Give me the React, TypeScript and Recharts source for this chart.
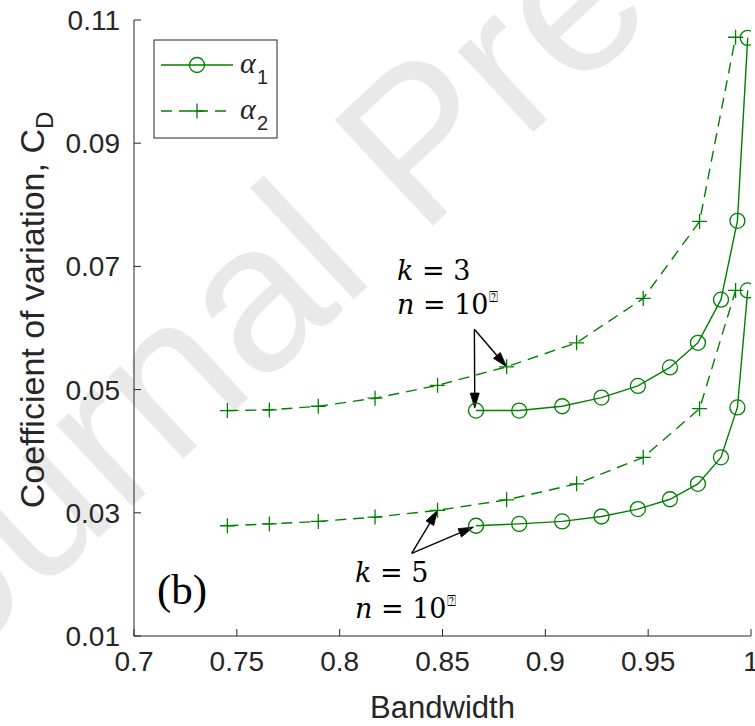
import React from 'react';
import { LineChart, Line, XAxis, YAxis, ReferenceLine } from 'recharts';

const GREEN = '#008000';
const AXIS = '#262626';

// Bandwidth values (x) for the two variants
const bwAlpha1 = [0.8663, 0.8873, 0.9082, 0.9273, 0.945, 0.9606, 0.9742, 0.9854, 0.9934, 0.9984];
const bwAlpha2 = [0.7454, 0.7658, 0.7896, 0.8172, 0.8476, 0.8812, 0.9152, 0.9476, 0.975, 0.9925];
// Coefficient of variation C_D
const k3Alpha1 = [0.0466, 0.0466, 0.0473, 0.0487, 0.0506, 0.0536, 0.0576, 0.0646, 0.0774, 0.1071];
const k3Alpha2 = [0.0466, 0.0467, 0.0473, 0.0486, 0.0507, 0.0537, 0.0576, 0.0648, 0.0773, 0.1072];
const k5Alpha1 = [0.0279, 0.0282, 0.0286, 0.0294, 0.0306, 0.0322, 0.0347, 0.039, 0.0471, 0.0661];
const k5Alpha2 = [0.0279, 0.0282, 0.0286, 0.0293, 0.0304, 0.0321, 0.0347, 0.039, 0.0469, 0.0661];

const xTicks = [0.7, 0.75, 0.8, 0.85, 0.9, 0.95, 1];
const yTicks = [0.01, 0.03, 0.05, 0.07, 0.09, 0.11];

// annotation arrows (data coordinates): [start, tip]
const arrowK3 = [
  [{ x: 0.8655, y: 0.0598 }, { x: 0.8657, y: 0.047 }],
  [{ x: 0.8655, y: 0.0598 }, { x: 0.8812, y: 0.0537 }],
];
const arrowK5 = [
  [{ x: 0.835, y: 0.0234 }, { x: 0.8476, y: 0.0304 }],
  [{ x: 0.835, y: 0.0234 }, { x: 0.8651, y: 0.0277 }],
];

const toPts = (xs: number[], ys: number[]) => xs.map((x, i) => ({ x, y: ys[i] }));

const SANS = '"Liberation Sans", Arial, Helvetica, sans-serif';
const SERIF = '"Liberation Serif", "Times New Roman", serif';
const MATH = '"DejaVu Serif", serif';

const TICK_LEN = 7;

const fmt = (v: number) => String(Number(v.toFixed(4)));

const BottomTick = (p: any) => (
  <g>
    <line x1={p.x} y1={p.y} x2={p.x} y2={p.y - TICK_LEN} stroke={AXIS} strokeWidth={1} />
    <text x={p.x} y={p.y + 35} textAnchor="middle" fontFamily={SANS} fontSize={28} fill={AXIS}>
      {fmt(p.payload.value)}
    </text>
  </g>
);
const TopTick = (p: any) => (
  <line x1={p.x} y1={p.y} x2={p.x} y2={p.y + TICK_LEN} stroke={AXIS} strokeWidth={1} />
);
const LeftTick = (p: any) => (
  <g>
    <line x1={p.x} y1={p.y} x2={p.x + TICK_LEN} y2={p.y} stroke={AXIS} strokeWidth={1} />
    <text x={p.x - 14} y={p.y + 10} textAnchor="end" fontFamily={SANS} fontSize={28} fill={AXIS}>
      {fmt(p.payload.value)}
    </text>
  </g>
);
const RightTick = (p: any) => (
  <line x1={p.x} y1={p.y} x2={p.x - TICK_LEN} y2={p.y} stroke={AXIS} strokeWidth={1} />
);

const circleDot = (p: any) => (
  <circle key={`c-${p.index}`} cx={p.cx} cy={p.cy} r={7.5} fill="none" stroke={GREEN} strokeWidth={1.3} strokeDasharray="none" />
);
const plusDot = (p: any) => (
  <path
    key={`p-${p.index}`}
    d={`M${p.cx - 7.5},${p.cy}h15M${p.cx},${p.cy - 7.5}v15`}
    fill="none"
    stroke={GREEN}
    strokeWidth={1.3}
    strokeDasharray="none"
  />
);

const arrowShape = (p: any) => {
  const { x1, y1, x2, y2 } = p;
  const dx = x2 - x1;
  const dy = y2 - y1;
  const len = Math.sqrt(dx * dx + dy * dy) || 1;
  const ux = dx / len;
  const uy = dy / len;
  const hl = 15;
  const hw = 4.5;
  const bx = x2 - ux * hl;
  const by = y2 - uy * hl;
  const pts = `${x2},${y2} ${bx - uy * hw},${by + ux * hw} ${bx + uy * hw},${by - ux * hw}`;
  return (
    <g>
      <line x1={x1} y1={y1} x2={bx} y2={by} stroke="#000" strokeWidth={1.4} />
      <polygon points={pts} fill="#000" stroke="#000" strokeWidth={0.8} />
    </g>
  );
};

const Watermark = () => {
  const ax = -126;
  const ay = 747;
  return (
    <svg width={755} height={726} style={{ position: 'absolute', left: 0, top: 0 }}>
      <text
        x={ax}
        y={ay}
        transform={`rotate(-43 ${ax} ${ay})`}
        fontFamily={SANS}
        fontSize={210}
        fill="#e9e9e9"
      >
        Journal Pre-proof
      </text>
    </svg>
  );
};

const Overlay = () => (
  <svg width={755} height={726} style={{ position: 'absolute', left: 0, top: 0 }}>
    {/* legend */}
    <rect x={154} y={40} width={123} height={98} fill="none" stroke={AXIS} strokeWidth={1} />
    <line x1={161} y1={65} x2={233} y2={65} stroke={GREEN} strokeWidth={1.4} />
    <circle cx={197} cy={65} r={7.5} fill="none" stroke={GREEN} strokeWidth={1.3} />
    <text x={240} y={73} fontFamily={SERIF} fontStyle="italic" fontSize={30} fill={AXIS}>α</text>
    <text x={257} y={84} fontFamily={SANS} fontSize={20} fill={AXIS}>1</text>
    <line x1={161} y1={111} x2={233} y2={111} stroke={GREEN} strokeWidth={1.4} strokeDasharray="11 7" />
    <path d="M189.5,111h15M197,103.5v15" stroke={GREEN} strokeWidth={1.3} fill="none" />
    <text x={240} y={119} fontFamily={SERIF} fontStyle="italic" fontSize={30} fill={AXIS}>α</text>
    <text x={257} y={130} fontFamily={SANS} fontSize={20} fill={AXIS}>2</text>

    {/* k = 3 annotation */}
    <text x={397} y={280} fontFamily={MATH} fontSize={27} fill="#000">
      <tspan fontStyle="italic">k</tspan> = 3
    </text>
    <text x={397} y={314} fontFamily={MATH} fontSize={27} fill="#000">
      <tspan fontStyle="italic">n</tspan> = 10
      <tspan dy={-12} fontSize={15} fontFamily='"DejaVu Sans", sans-serif'>⍰</tspan>
    </text>

    {/* k = 5 annotation */}
    <text x={355} y={582} fontFamily={MATH} fontSize={27} fill="#000">
      <tspan fontStyle="italic">k</tspan> = 5
    </text>
    <text x={355} y={618} fontFamily={MATH} fontSize={27} fill="#000">
      <tspan fontStyle="italic">n</tspan> = 10
      <tspan dy={-12} fontSize={15} fontFamily='"DejaVu Sans", sans-serif'>⍰</tspan>
    </text>

    {/* panel label */}
    <text x={157} y={604} fontFamily={SERIF} fontSize={43} fill="#000">(b)</text>

    {/* y label */}
    <text
      transform="translate(44,310) rotate(-90)"
      textAnchor="middle"
      fontFamily={SANS}
      fontSize={34}
      fill={AXIS}
    >
      Coefficient of variation, C<tspan dy={9} fontSize={24}>D</tspan>
    </text>
  </svg>
);

export default function App() {
  return (
    <div style={{ position: 'absolute', left: 0, top: 0, width: 755, height: 726, background: '#fff' }}>
      <Watermark />
      <div style={{ position: 'absolute', left: 0, top: 0 }}>
        <LineChart width={755} height={726} margin={{ top: 20, right: 4, bottom: 0, left: 0 }}>
          <XAxis
            xAxisId="b"
            dataKey="x"
            type="number"
            domain={[0.7, 1]}
            ticks={xTicks}
            interval={0}
            allowDataOverflow
            height={90}
            tickSize={0}
            tickMargin={0}
            tickLine={false}
            axisLine={{ stroke: AXIS, strokeWidth: 1 }}
            tick={BottomTick}
            label={{
              value: 'Bandwidth',
              position: 'insideBottom',
              offset: 8,
              fontFamily: SANS,
              fontSize: 31,
              fill: AXIS,
            }}
          />
          <XAxis
            xAxisId="t"
            orientation="top"
            dataKey="x"
            type="number"
            domain={[0.7, 1]}
            ticks={xTicks}
            interval={0}
            allowDataOverflow
            height={0}
            tickSize={0}
            tickMargin={0}
            tickLine={false}
            axisLine={{ stroke: AXIS, strokeWidth: 1 }}
            tick={TopTick}
          />
          <YAxis
            yAxisId="l"
            type="number"
            domain={[0.01, 0.11]}
            ticks={yTicks}
            interval={0}
            allowDataOverflow
            width={134}
            tickSize={0}
            tickMargin={0}
            tickLine={false}
            axisLine={{ stroke: AXIS, strokeWidth: 1 }}
            tick={LeftTick}
          />
          <YAxis
            yAxisId="r"
            orientation="right"
            type="number"
            domain={[0.01, 0.11]}
            ticks={yTicks}
            interval={0}
            allowDataOverflow
            width={0}
            tickSize={0}
            tickMargin={0}
            tickLine={false}
            axisLine={{ stroke: AXIS, strokeWidth: 1 }}
            tick={RightTick}
          />

          <Line xAxisId="b" yAxisId="l" data={toPts(bwAlpha2, k3Alpha2)} dataKey="y" type="linear"
            stroke={GREEN} strokeWidth={1.4} strokeDasharray="11 7" dot={plusDot} activeDot={false} isAnimationActive={false} />
          <Line xAxisId="b" yAxisId="l" data={toPts(bwAlpha2, k5Alpha2)} dataKey="y" type="linear"
            stroke={GREEN} strokeWidth={1.4} strokeDasharray="11 7" dot={plusDot} activeDot={false} isAnimationActive={false} />
          <Line xAxisId="b" yAxisId="l" data={toPts(bwAlpha1, k3Alpha1)} dataKey="y" type="linear"
            stroke={GREEN} strokeWidth={1.4} dot={circleDot} activeDot={false} isAnimationActive={false} />
          <Line xAxisId="b" yAxisId="l" data={toPts(bwAlpha1, k5Alpha1)} dataKey="y" type="linear"
            stroke={GREEN} strokeWidth={1.4} dot={circleDot} activeDot={false} isAnimationActive={false} />

          {[...arrowK3, ...arrowK5].map((seg, i) => (
            <ReferenceLine key={`a${i}`} xAxisId="b" yAxisId="l" segment={seg} shape={arrowShape} ifOverflow="visible" />
          ))}
        </LineChart>
      </div>
      <Overlay />
    </div>
  );
}
